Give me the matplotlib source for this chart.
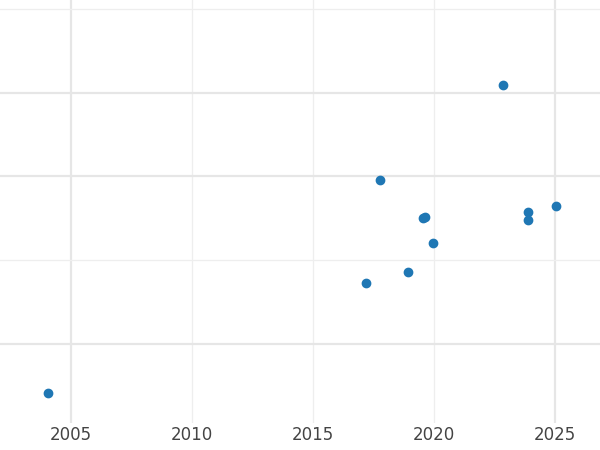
import matplotlib.pyplot as plt

years = [2004.05, 2017.19, 2018.93, 2017.77, 2019.55, 2019.64, 2019.96, 2022.86, 2023.90, 2023.90, 2025.05]
values = [0.41, 1.72, 1.86, 2.96, 2.50, 2.52, 2.20, 4.09, 2.57, 2.48, 2.64]
major_years = [2005, 2025]
minor_years = [2010, 2015, 2020]
tick_years = [2005, 2010, 2015, 2020, 2025]

fig = plt.figure(figsize=(6, 4.5), dpi=100)
ax = fig.add_axes([0, 0.06, 1, 0.94])

for x in major_years:
    ax.axvline(x, color="#e6e6e6", lw=1.6, zorder=0)
for x in minor_years:
    ax.axvline(x, color="#eeeeee", lw=0.9, zorder=0)
for y, lw in zip([1, 2, 3, 4, 5], [1.6, 0.9, 1.6, 1.6, 0.9]):
    ax.axhline(y, color="#e6e6e6" if lw > 1 else "#eeeeee", lw=lw, zorder=0)

ax.scatter(years, values, s=36, color="#1f77b4", zorder=3)

ax.set_xlim(2002.07, 2026.86)
# bottom margin so the y grid still lands on the same pixels
ax.set_ylim(0.05, 5.11)
ax.set_xticks(tick_years)
ax.set_xticklabels([str(t) for t in tick_years], fontsize=12, color="#444444")
ax.set_yticks([])
ax.tick_params(axis="x", length=0, pad=2)
for s in ax.spines.values():
    s.set_visible(False)

fig.savefig("out.png", dpi=100)
